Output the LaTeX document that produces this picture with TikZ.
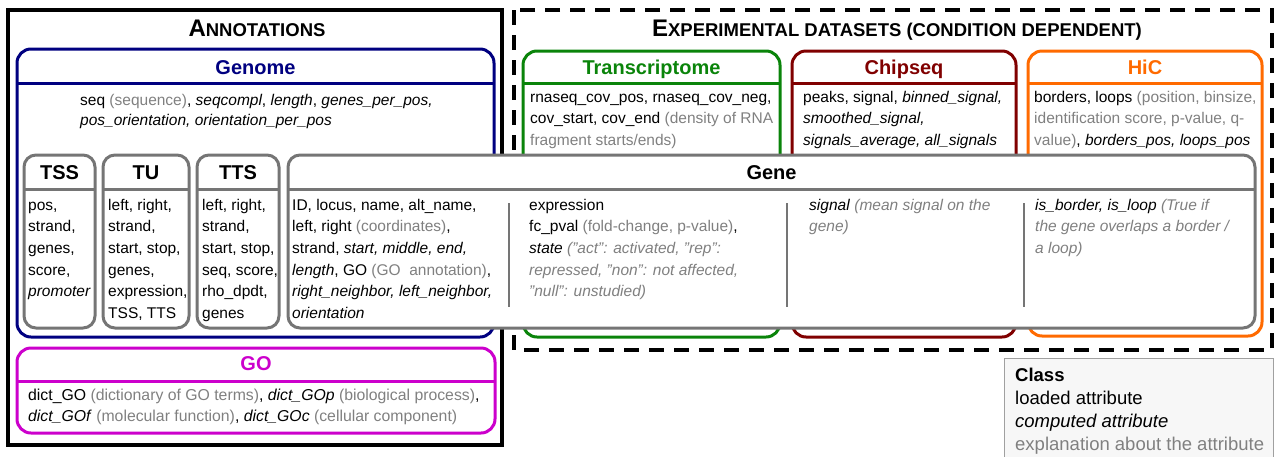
\documentclass[tikz,border=0pt]{standalone}
\usepackage{fontspec}
\setmainfont{Liberation Sans}
\definecolor{navyc}{HTML}{000080}
\definecolor{greenc}{HTML}{0A840A}
\definecolor{redc}{HTML}{800000}
\definecolor{orangec}{HTML}{FF6A00}
\definecolor{magc}{HTML}{CC00CC}
\definecolor{boxgray}{HTML}{757575}
\definecolor{expgray}{HTML}{808080}
\definecolor{legfill}{HTML}{F7F7F7}
\definecolor{legline}{HTML}{A0A0A0}
\newcommand{\cmp}[1]{\textit{#1}}
\newcommand{\expl}[1]{\textcolor{expgray}{#1}}
\newcommand{\iexpl}[1]{\textcolor{expgray}{\itshape #1}}
\newcommand{\qd}{{\char34}}
\newcommand{\fsc}[2]{{\fontsize{24}{28}\selectfont #1}{\fontsize{18.5}{22}\selectfont #2}}
\begin{document}
\begin{tikzpicture}[x=1pt,y=-1pt,
  body/.style={anchor=north west, inner sep=0pt, align=left, font=\fontsize{15.5}{21.6}\selectfont},
  ttl/.style={anchor=base, inner sep=0pt, font=\fontsize{20}{24}\selectfont\bfseries},
  bigttl/.style={anchor=base, inner sep=0pt, font=\bfseries},
  cbox/.style={line width=3pt, rounded corners=14pt},
  hline/.style={line width=3pt},
  gbox/.style={line width=3pt, rounded corners=12pt, draw=boxgray, fill=white},
  sep/.style={line width=2pt, draw=boxgray}]
\useasboundingbox (0,0) rectangle (1274,456);

% outer frames
\draw[line width=4pt] (8,10) rectangle (502,445);
\draw[line width=4pt, dash pattern=on 15pt off 10pt] (514,10) rectangle (1272,350);
\node[bigttl] (tann) at (257,36.5) {\fsc{A}{NNOTATIONS}};
\node[bigttl] (texp) at (897,36.5) {\fsc{E}{XPERIMENTAL DATASETS (CONDITION DEPENDENT)}};

% Genome
\draw[cbox, draw=navyc] (17,49) rectangle (494,337);
\draw[hline, navyc] (17,83) -- (494,83);
\node[ttl, text=navyc] (tgenome) at (255.5,74) {Genome};
\node[body, font=\fontsize{15.5}{20}\selectfont] (bgenome) at (80,91) {\strut seq \expl{(sequence)}, \cmp{seqcompl}, \cmp{length}, \cmp{genes\_per\_pos,}\\
\cmp{pos\_orientation, orientation\_per\_pos}};

% GO
\draw[cbox, draw=magc] (17,348) rectangle (495,433);
\draw[hline, magc] (17,381) -- (495,381);
\node[ttl, text=magc] (tgo) at (256,370) {GO};
\node[body, font=\fontsize{15.8}{21.6}\selectfont] (bgo) at (28,384.9) {\strut dict\_GO \expl{(dictionary of GO terms)}, \cmp{dict\_GOp} \expl{(biological process)},\\
\cmp{dict\_GOf} \expl{(molecular function)}, \cmp{dict\_GOc} \expl{(cellular component)}};

% Transcriptome
\draw[cbox, draw=greenc] (523,51) rectangle (780,337);
\draw[hline, greenc] (523,83) -- (780,83);
\node[ttl, text=greenc] (ttrans) at (651.5,74) {Transcriptome};
\node[body] (btrans) at (530,86.9) {\strut rnaseq\_cov\_pos, rnaseq\_cov\_neg,\\
cov\_start, cov\_end \expl{(density of RNA}\\
\expl{fragment starts/ends)}};

% Chipseq
\draw[cbox, draw=redc] (792,51) rectangle (1016,337);
\draw[hline, redc] (792,83) -- (1016,83);
\node[ttl, text=redc] (tchip) at (904,74) {Chipseq};
\node[body] (bchip) at (803,86.9) {\strut peaks, signal, \cmp{binned\_signal,}\\
\cmp{smoothed\_signal,}\\
\cmp{signals\_average, all\_signals}};

% HiC
\draw[cbox, draw=orangec] (1028,51) rectangle (1262,336);
\draw[hline, orangec] (1028,83) -- (1262,83);
\node[ttl, text=orangec] (thic) at (1145,74) {HiC};
\node[body] (bhic) at (1034,86.9) {\strut borders, loops \expl{(position, binsize,}\\
\expl{identification score, p-value, q-}\\
\expl{value)}, \cmp{borders\_pos, loops\_pos}};

% TSS
\draw[gbox] (24,155) rectangle (95,328);
\draw[hline, boxgray] (24,189) -- (95,189);
\node[ttl] (ttss) at (59.5,179) {TSS};
\node[body] (btss) at (28,194.9) {\strut pos,\\ strand,\\ genes,\\ score,\\ \cmp{promoter}};

% TU
\draw[gbox] (103,155) rectangle (189,328);
\draw[hline, boxgray] (103,189) -- (189,189);
\node[ttl] (ttu) at (146,179) {TU};
\node[body] (btu) at (108,194.9) {\strut left, right,\\ strand,\\ start, stop,\\ genes,\\ expression,\\ TSS, TTS};

% TTS
\draw[gbox] (197,155) rectangle (279,328);
\draw[hline, boxgray] (197,189) -- (279,189);
\node[ttl] (ttts) at (238,179) {TTS};
\node[body] (btts) at (202,194.9) {\strut left, right,\\ strand,\\ start, stop,\\ seq, score,\\ rho\_dpdt,\\ genes};

% Gene
\draw[gbox] (288,155) rectangle (1255,328);
\draw[hline, boxgray] (288,189) -- (1255,189);
\node[ttl] (tgene) at (771.5,179) {Gene};
\node[body] (bgene1) at (292,194.9) {\strut ID, locus, name, alt\_name,\\
left, right \expl{(coordinates)},\\
strand, \cmp{start, middle, end,}\\
\cmp{length}, GO \expl{(GO\ \ annotation)},\\
\cmp{right\_neighbor, left\_neighbor,}\\
\cmp{orientation}};
\node[body] (bgene2) at (529,194.9) {\strut expression\\
fc\_pval \expl{(fold-change, p-value)},\\
\cmp{state} \iexpl{(\qd act\qd: activated, \qd rep\qd:}\\
\iexpl{repressed, \qd non\qd: not affected,}\\
\iexpl{\qd null\qd: unstudied)}};
\node[body] (bgene3) at (809,194.9) {\strut \cmp{signal} \iexpl{(mean signal on the}\\
\iexpl{gene)}};
\node[body] (bgene4) at (1035,194.9) {\strut \cmp{is\_border, is\_loop} \iexpl{(True if}\\
\iexpl{the gene overlaps a border /}\\
\iexpl{a loop)}};
\coordinate (s1a) at (509,203); \coordinate (s1b) at (509,307);
\coordinate (s2a) at (787,203); \coordinate (s2b) at (787,307);
\coordinate (s3a) at (1024,203); \coordinate (s3b) at (1024,307);
\draw[sep] (s1a) -- (s1b);
\draw[sep] (s2a) -- (s2b);
\draw[sep] (s3a) -- (s3b);

% legend
\draw[fill=legfill, draw=legline, line width=1pt] (1004,358) rectangle (1273,470);
\node[body, font=\fontsize{18.5}{23}\selectfont] (legend) at (1015,364.9) {\strut\textbf{Class}\\
loaded attribute\\
\cmp{computed attribute}\\
\expl{explanation about the attribute}};
\end{tikzpicture}
\end{document}
